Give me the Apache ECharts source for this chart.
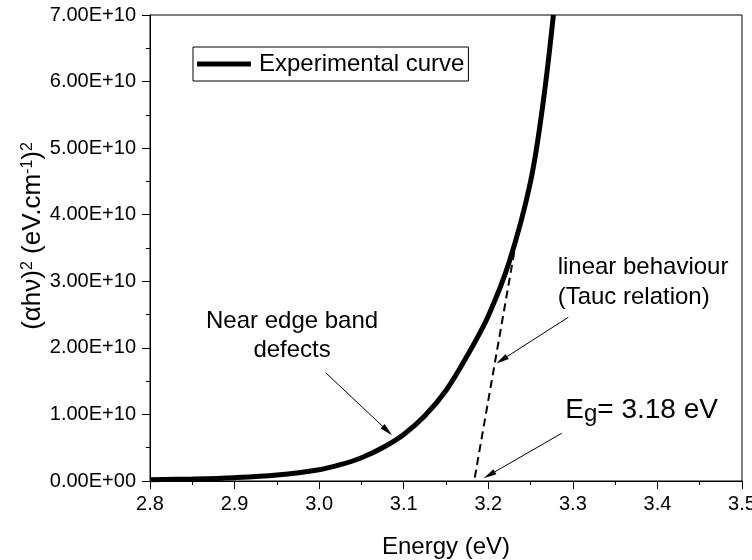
<!DOCTYPE html>
<html>
<head>
<meta charset="utf-8">
<script src="https://cdn.jsdelivr.net/npm/echarts@6/dist/echarts.min.js"></script>
<style>html,body{margin:0;padding:0;background:#fff}#c{width:752px;height:560px}</style>
</head>
<body>
<div id="c"></div>
<script>
// ---- data ----
const energy = [2.80, 2.85, 2.90, 2.95, 3.00, 3.025, 3.05, 3.075, 3.10, 3.125, 3.15, 3.175, 3.20, 3.225, 3.25, 3.265, 3.277];
const absorption = [0.02e10, 0.03e10, 0.05e10, 0.09e10, 0.17e10, 0.245e10, 0.35e10, 0.50e10, 0.70e10, 0.98e10, 1.36e10, 1.88e10, 2.48e10, 3.30e10, 4.50e10, 5.70e10, 7.00e10];
const taucLineE = [3.184, 3.235];
const taucLineV = [0.05e10, 3.75e10];
const xTicks = ['2.8','2.9','3.0','3.1','3.2','3.3','3.4','3.5'];
const yTicks = ['0.00E+00','1.00E+10','2.00E+10','3.00E+10','4.00E+10','5.00E+10','6.00E+10','7.00E+10'];
const seriesName = 'Experimental curve';
const arrowNearEdge = [[3.0077, 1.627e10], [3.0806, 0.756e10]];
const arrowLinear = [[3.2946, 2.459e10], [3.2159, 1.818e10]];
const arrowEg = [[3.2868, 0.717e10], [3.2012, 0.09e10]];
const textNearEdge = {x: 2.968, y: 2.18e10, text: 'Near edge band\ndefects'};
const textLinear = {x: 3.2820, y: 2.98e10, text: 'linear behaviour\n(Tauc relation)'};
const textEg = {x: 3.2910, y: 1.06e10};

const FONT = '"Liberation Sans", Arial, sans-serif';
const chart = echarts.init(document.getElementById('c'), null, {renderer: 'canvas'});

const arrowLine = (pair) => [{coord: pair[0]}, {coord: pair[1]}];

chart.setOption({
  animation: false,
  backgroundColor: '#fff',
  grid: {left: 150, right: 10, top: 15, bottom: 79, containLabel: false, outerBoundsMode: 'none',
    show: true, borderColor: '#000', borderWidth: 1, backgroundColor: 'transparent'},
  legend: {
    show: true,
    data: [seriesName],
    left: 193, top: 47,
    borderColor: '#000', borderWidth: 1,
    padding: [5, 4, 5, 4],
    itemWidth: 54, itemHeight: 5,
    icon: 'rect',
    textStyle: {fontFamily: FONT, fontSize: 24, color: '#000', padding: [0, 0, 0, 3]}
  },
  xAxis: {
    type: 'value', min: 2.8, max: 3.5, interval: 0.1,
    name: 'Energy (eV)', nameLocation: 'middle', nameGap: 54, nameMoveOverlap: false,
    nameTextStyle: {fontFamily: FONT, fontSize: 24, color: '#000'},
    axisLine: {onZero: false, lineStyle: {color: '#000', width: 1}},
    axisTick: {show: true, inside: false, length: 8, lineStyle: {color: '#000'}},
    minorTick: {show: true, splitNumber: 2, length: 4, lineStyle: {color: '#000'}},
    splitLine: {show: false},
    axisLabel: {fontFamily: FONT, fontSize: 20, color: '#000', margin: 13,
      formatter: (v) => xTicks[Math.round((v - 2.8) * 10)] ?? v.toFixed(1)}
  },
  yAxis: {
    type: 'value', min: 0, max: 7e10, interval: 1e10,
    name: '{b|(αhν)}{s|2}{b| (eV.cm}{s|-1}{b|)}{s|2}', nameLocation: 'middle', nameGap: 104, nameMoveOverlap: false,
    nameTextStyle: {
      fontFamily: FONT, fontSize: 26, color: '#000', padding: [0, 0, 0, 24],
      rich: {
        b: {fontFamily: FONT, fontSize: 26, color: '#000', lineHeight: 26},
        s: {fontFamily: FONT, fontSize: 16, color: '#000', lineHeight: 16, verticalAlign: 'top'}
      }
    },
    axisLine: {onZero: false, lineStyle: {color: '#000', width: 1}},
    axisTick: {show: true, inside: false, length: 8, lineStyle: {color: '#000'}},
    minorTick: {show: true, splitNumber: 2, length: 4, lineStyle: {color: '#000'}},
    splitLine: {show: false},
    axisLabel: {fontFamily: FONT, fontSize: 20, color: '#000', margin: 14,
      formatter: (v) => yTicks[Math.round(v / 1e10)]}
  },
  series: [
    {
      name: seriesName, type: 'line', smooth: 0.35,
      showSymbol: false, symbol: 'none', clip: true,
      lineStyle: {color: '#000', width: 5},
      itemStyle: {color: '#000'},
      data: energy.map((e, i) => [e, absorption[i]]),
      z: 3
    },
    {
      name: 'tauc', type: 'line', showSymbol: false, symbol: 'none',
      lineStyle: {color: '#000', width: 2, type: [8, 5]},
      data: taucLineE.map((e, i) => [e, taucLineV[i]]),
      z: 2,
      markLine: {
        silent: true, symbol: ['none', 'triangle'], symbolSize: [6, 13],
        lineStyle: {color: '#000', width: 1, type: 'solid'},
        label: {show: false},
        data: [arrowLine(arrowNearEdge), arrowLine(arrowLinear), arrowLine(arrowEg)]
      }
    }
  ]
});

function place() {
  const p1 = chart.convertToPixel({gridIndex: 0}, [textNearEdge.x, textNearEdge.y]);
  const p2 = chart.convertToPixel({gridIndex: 0}, [textLinear.x, textLinear.y]);
  const p3 = chart.convertToPixel({gridIndex: 0}, [textEg.x, textEg.y]);
  chart.setOption({
    graphic: [
      {type: 'text', x: p1[0], y: p1[1], style: {text: textNearEdge.text, fontFamily: FONT, fontSize: 24, lineHeight: 29, fill: '#000', align: 'center', verticalAlign: 'middle'}},
      {type: 'text', x: p2[0], y: p2[1], style: {text: textLinear.text, fontFamily: FONT, fontSize: 24, lineHeight: 30, fill: '#000', align: 'left', verticalAlign: 'middle'}},
      {type: 'text', x: p3[0], y: p3[1], style: {
        text: '{b|E}{s|g}{b|= 3.18 eV}', fill: '#000', align: 'left', verticalAlign: 'middle',
        rich: {
          b: {fontFamily: FONT, fontSize: 28, lineHeight: 32, fill: '#000'},
          s: {fontFamily: FONT, fontSize: 24, lineHeight: 26, verticalAlign: 'bottom', fill: '#000'}
        }
      }}
    ]
  });
}
place();
</script>
</body>
</html>
